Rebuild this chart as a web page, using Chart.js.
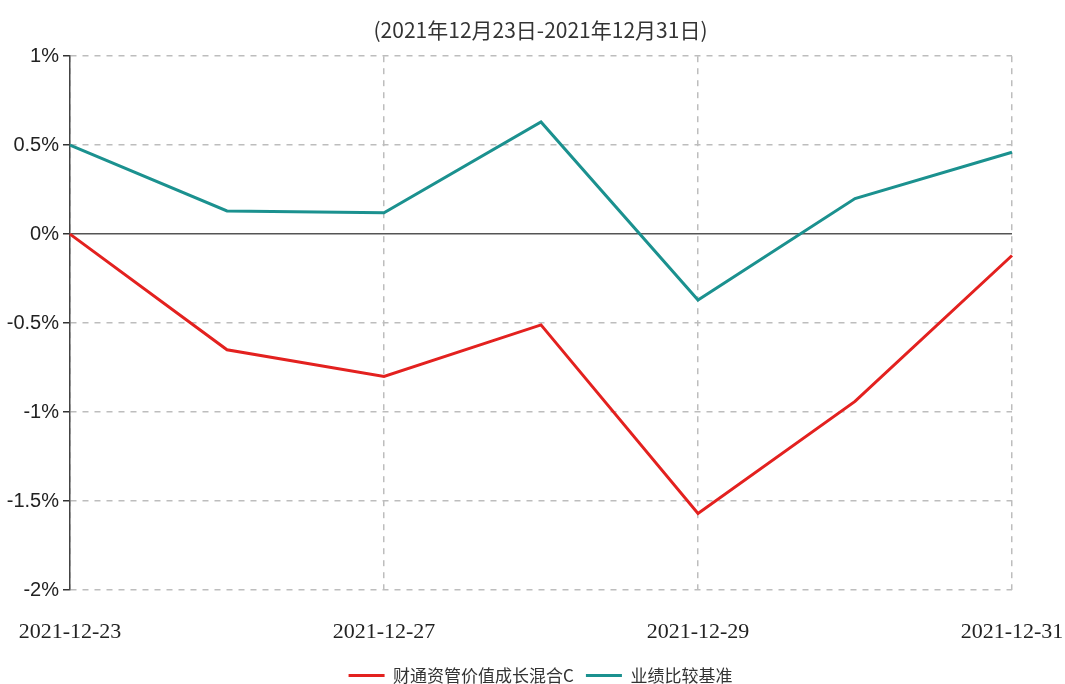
<!DOCTYPE html>
<html>
<head>
<meta charset="utf-8">
<script src="https://cdn.jsdelivr.net/npm/chart.js@4/dist/chart.umd.min.js"></script>
<style>
    body { margin: 0; background: #fff; }
    #wrap { width: 1065px; height: 684px; }
</style>
</head>
<body>
<div id="wrap"><canvas id="perf-chart"></canvas></div>
<script>
const dates = ['2021-12-23', '2021-12-24', '2021-12-27', '2021-12-28', '2021-12-29', '2021-12-30', '2021-12-31'];
const fundName = '财通资管价值成长混合C';
const benchName = '业绩比较基准';
const fundValues = [0, -0.65, -0.80, -0.51, -1.57, -0.94, -0.12];
const benchValues = [0.50, 0.13, 0.12, 0.63, -0.37, 0.20, 0.46];
const yTicks = [-2, -1.5, -1, -0.5, 0, 0.5, 1];
const subtitle = '(2021年12月23日-2021年12月31日)';

// only every other date gets a label and a grid line
const shownLabel = i => i % 2 === 0;

// title and legend sit a bit right of centre, legend a bit lower
const blockNudge = {
    id: 'blockNudge',
    afterLayout(chart) {
        const t = chart.titleBlock;
        t.left += 8;
        t.right += 8;
        const lg = chart.legend;
        lg.left += 8;
        lg.right += 8;
        lg.top += 10;
        lg.bottom += 10;
    },
};

const ctx = document.getElementById('perf-chart').getContext('2d');
window.perfChart = new Chart(ctx, {
    type: 'line',
    data: {
        labels: dates,
        datasets: [{
            label: fundName,
            data: fundValues,
            borderColor: '#e3211f',
            backgroundColor: '#e3211f',
            borderWidth: 3,
            pointRadius: 0,
            tension: 0,
        }, {
            label: benchName,
            data: benchValues,
            borderColor: '#1b918f',
            backgroundColor: '#1b918f',
            borderWidth: 3,
            pointRadius: 0,
            tension: 0,
        }],
    },
    plugins: [blockNudge],
    options: {
        responsive: true,
        maintainAspectRatio: false,
        animation: false,
        layout: {
            padding: 0,
        },
        plugins: {
            title: {
                display: true,
                text: subtitle,
                color: '#333',
                font: { family: '"Noto Sans CJK SC", sans-serif', size: 21, weight: 'normal' },
                padding: { top: 17, bottom: 14 },
            },
            legend: {
                display: true,
                position: 'bottom',
                labels: {
                    usePointStyle: true,
                    pointStyle: 'line',
                    pointStyleWidth: 36,
                    color: '#333',
                    font: { family: '"Noto Sans CJK SC", sans-serif', size: 17 },
                    padding: 12,
                },
            },
            tooltip: { enabled: false },
        },
        scales: {
            x: {
                afterFit: scale => {
                    // end labels hang past the plot edges like the original
                    scale.paddingLeft = 0;
                    scale.paddingRight = 53;
                    scale.height = 55;
                },
                ticks: {
                    autoSkip: false,
                    maxRotation: 0,
                    color: '#222',
                    padding: 29,
                    font: { family: '"Liberation Serif", serif', size: 22 },
                    callback: function (value, index) {
                        return shownLabel(index) ? this.getLabelForValue(value) : '';
                    },
                },
                grid: {
                    drawTicks: false,
                    color: c => shownLabel(c.index) ? '#bdbdbd' : 'transparent',
                    lineWidth: 1.5,
                },
                border: {
                    display: false,
                    dash: [6, 6],
                },
            },
            y: {
                min: -2,
                max: 1,
                afterFit: scale => {
                    scale.width = 70;
                    scale.paddingTop = 0;
                    scale.paddingBottom = 0;
                },
                afterBuildTicks: axis => {
                    axis.ticks = yTicks.map(v => ({ value: v }));
                },
                ticks: {
                    color: '#222',
                    padding: 4,
                    font: { family: '"Liberation Sans Narrow", "Liberation Sans", sans-serif', size: 20 },
                    callback: v => v + '%',
                },
                grid: {
                    color: c => c.tick && c.tick.value === 0 ? '#555' : '#bdbdbd',
                    lineWidth: 1.5,
                    tickLength: 7,
                    tickColor: '#333',
                    tickBorderDash: [],
                },
                border: {
                    display: true,
                    color: '#444',
                    width: 1.5,
                    dash: c => c.tick && c.tick.value === 0 ? [] : [6, 6],
                },
            },
        },
    },
});
</script>
</body>
</html>
